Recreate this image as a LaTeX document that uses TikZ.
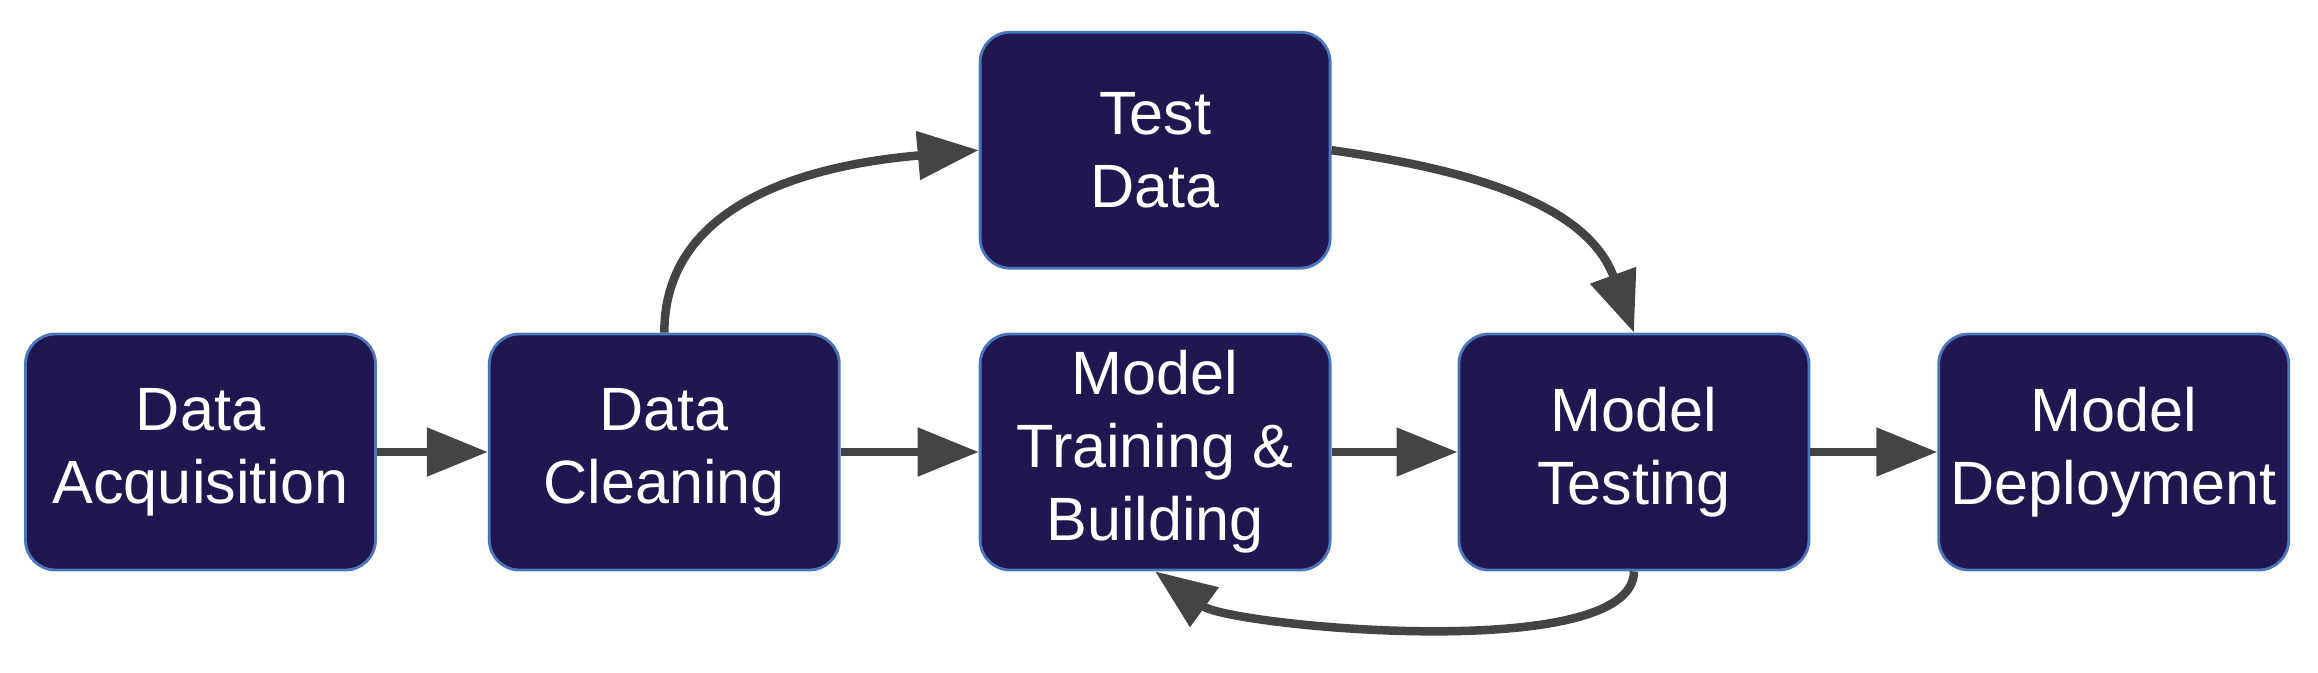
\documentclass[tikz,border=0pt]{standalone}
\usepackage{fontspec}
\setmainfont{Liberation Sans}
\usetikzlibrary{positioning,arrows.meta}
\definecolor{navy}{RGB}{33,23,80}
\definecolor{edgeblue}{RGB}{74,118,190}
\definecolor{arrowgray}{RGB}{68,68,68}

\begin{document}
\begin{tikzpicture}[stage/.style={rectangle,rounded corners=3mm,fill=navy,draw=edgeblue,line width=0.8pt,minimum width=35mm,minimum height=23.6mm,inner sep=0pt,align=center,text=white,font=\fontsize{17.4}{20.8}\selectfont},flow/.style={-{Triangle[length=6.1mm,width=4.7mm]},line width=0.85mm,draw=arrowgray}]
		\useasboundingbox (0,0) rectangle (23.18,6.72);
		\node[stage]										(acq)		at (2.005,2.2)	{Data\\Acquisition};
		\node[stage,node distance=11.1mm,right=of acq]		(clean)		{Data\\Cleaning};
		\node[stage,node distance=13.8mm,right=of clean]	(train)		{Model\\Training \&\\Building};
		\node[stage,node distance=6.3mm,above=of train]		(test)		{Test\\Data};
		\node[stage,node distance=12.6mm,right=of train]	(mtest)		{Model\\Testing};
		\node[stage,node distance=12.7mm,right=of mtest]	(deploy)	{Model\\Deployment};

		\draw[flow] (acq) -- (clean);
		\draw[flow] (clean) -- (train);
		\draw[flow] (train) -- (mtest);
		\draw[flow] (mtest) -- (deploy);
		\draw[flow] (clean.north) to[out=90,in=185] (test.west);
		\draw[flow] (test.east) to[out=-8,in=110] (mtest.north);
		\draw[flow] (mtest.south) to[out=-90,in=-36,looseness=0.5] (train.south);
	\end{tikzpicture}
\end{document}
